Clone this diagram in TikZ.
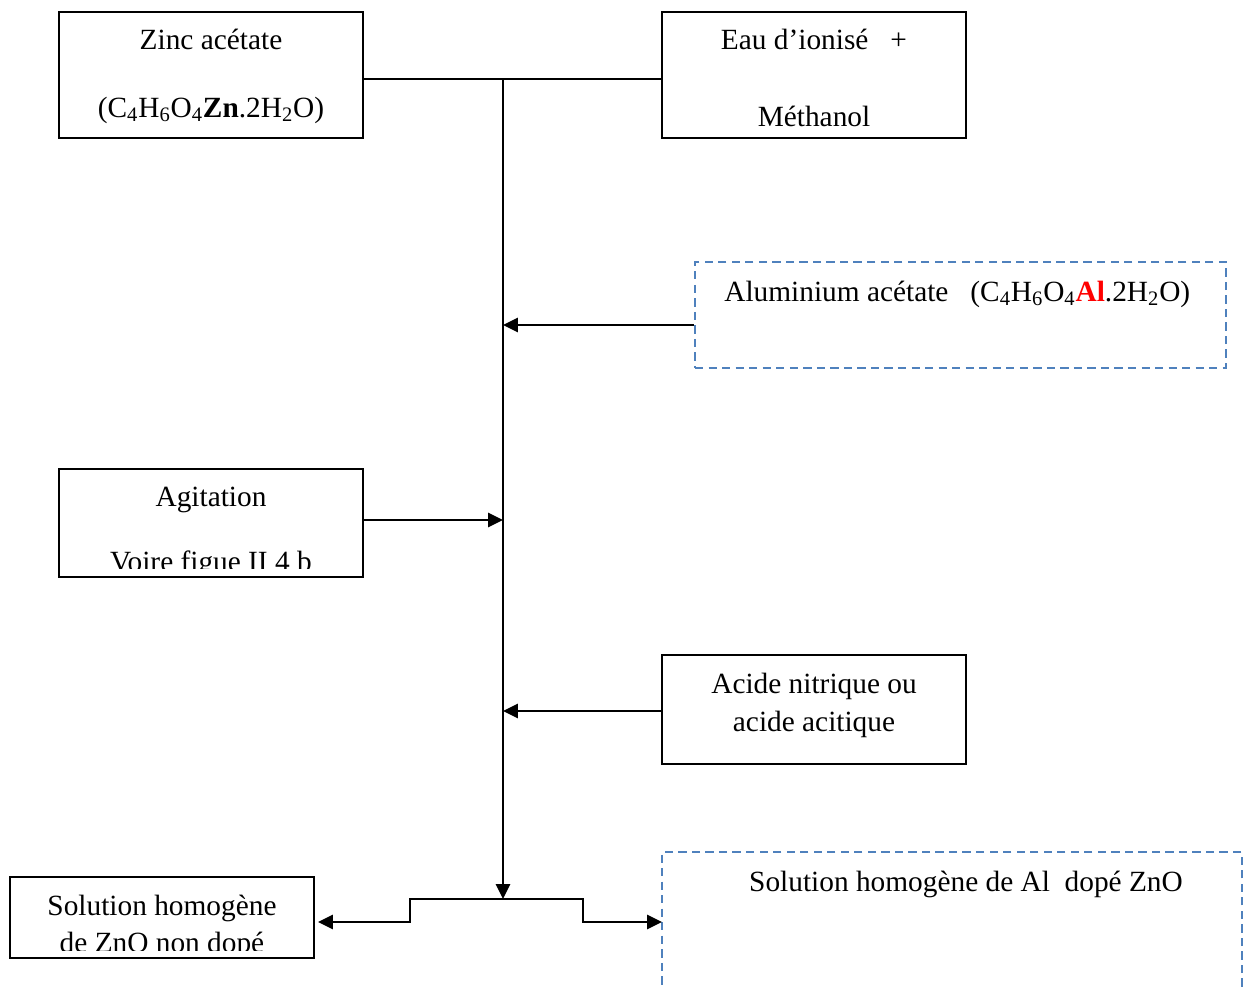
\documentclass[tikz,border=0pt]{standalone}
\usepackage{fontspec}
\setmainfont{Liberation Serif}
\usepackage{tikz}
\usetikzlibrary{arrows.meta,positioning}
\definecolor{dashblue}{RGB}{79,129,189}
\tikzset{
  flow/.style={x=0.02cm, y=-0.02cm, >={Triangle[length=8.5pt,width=8pt]},
               every node/.style={font=\fontsize{16.7}{20}\selectfont, inner sep=0pt}},
  box/.style={draw, line width=1.1pt},
  dbox/.style={draw=dashblue, line width=1.2pt, dash pattern=on 4.7pt off 3pt},
  feed/.style={->, line width=1.6pt},
  wire/.style={line width=1.4pt},
  txt/.style={anchor=base}
}
\newcommand{\chemsub}[1]{\textsubscript{#1}}

\begin{document}
\begin{tikzpicture}[flow]
\useasboundingbox (0,0) rectangle (1243,988);
% boxes
\node[box, minimum width=6.08cm, minimum height=2.52cm] (zinc) at (211,75) {};
\node[box, minimum width=6.08cm, minimum height=2.52cm] (eau) at (814,75) {};
\node[dbox, minimum width=10.62cm, minimum height=2.12cm] (alum) at (960.5,315) {};
\node[box, minimum width=6.08cm, minimum height=2.16cm] (agit) at (211,523) {};
\node[box, minimum width=6.08cm, minimum height=2.18cm] (acide) at (814,709.5) {};
\node[box, minimum width=6.08cm, minimum height=1.62cm] (solA) at (162,917.5) {};
\node[dbox, minimum width=11.6cm, minimum height=3cm] (solB) at (952,927) {};
% texts
\node[txt] (zinc1) at (211,49) {Zinc acétate};
\node[txt] (zinc2) at (211,117) {(C\chemsub{4}H\chemsub{6}O\chemsub{4}\textbf{Zn}.2H\chemsub{2}O)};
\node[txt] (eau1) at (814,49) {Eau d’ionisé \ \ +};
\node[txt] (eau2) at (814,126) {Méthanol};
\node[txt, anchor=base west] (alum1) at (724,301) {Aluminium acétate\hspace{0.75em}(C\chemsub{4}H\chemsub{6}O\chemsub{4}\textcolor{red}{\textbf{Al}}.2H\chemsub{2}O)};
\node[txt] (agit1) at (211,506) {Agitation};
\begin{scope}
  \clip (59,469) rectangle (363,568);
  \node[txt] (agit2) at (211,571) {Voire figue II 4 b};
\end{scope}
\node[txt] (acide1) at (814,693) {Acide nitrique ou};
\node[txt] (acide2) at (814,731) {acide acitique};
\node[txt] (solA1) at (162,915) {Solution homogène};
\begin{scope}
  \clip (10,877) rectangle (314,950);
  \node[txt] (solA2) at (162,952) {de ZnO non dopé};
\end{scope}
\node[txt] (solB1) at (966,891) {Solution homogène de Al \ dopé ZnO};
% connectors
\coordinate (junc) at (503,79);
\coordinate (split) at (503,899);
\coordinate (inAl) at (503,325);
\coordinate (inAg) at (503,520);
\coordinate (inAc) at (503,711);
\coordinate (stepL) at (410,899);
\coordinate (stepR) at (583,899);
\coordinate (outL) at (318,922);
\coordinate (outR) at (662,922);
\draw[wire] (zinc.east |- junc) -- (eau.west |- junc);
\draw[feed] (junc) -- (split);
\draw[feed] (alum.west |- inAl) -- (inAl);
\draw[feed] (agit.east |- inAg) -- (inAg);
\draw[feed] (acide.west |- inAc) -- (inAc);
\draw[feed] (split) -- (stepL) |- (outL);
\draw[feed] (split) -- (stepR) |- (outR);
\end{tikzpicture}
\end{document}
